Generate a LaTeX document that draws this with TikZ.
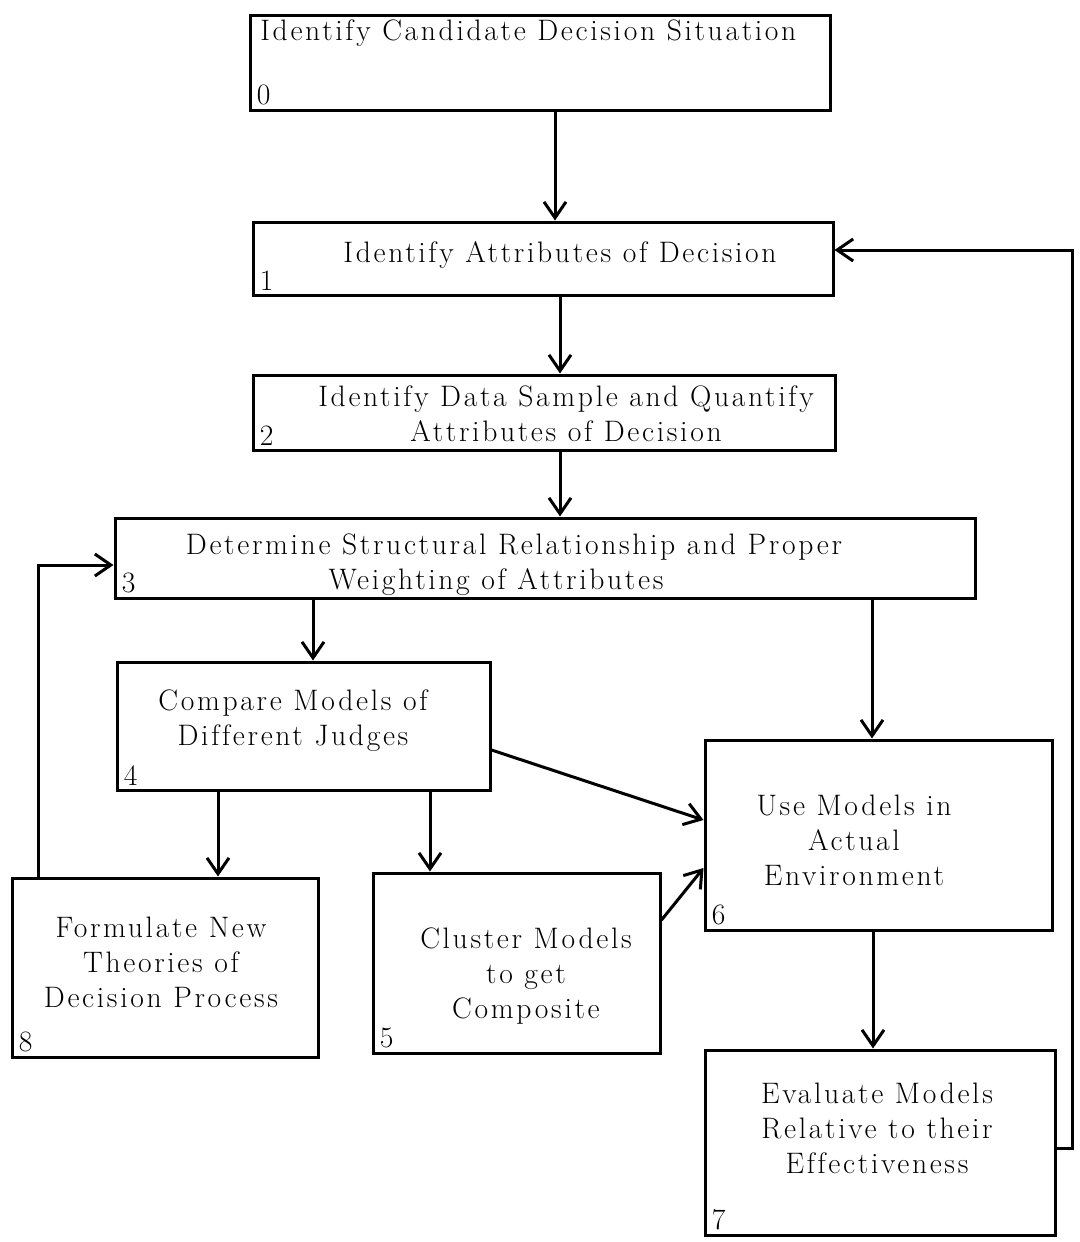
\documentclass[tikz,border=0pt]{standalone}
\usepackage{fontspec}
\setmainfont{Latin Modern Roman}[LetterSpace=9, Ligatures=CommonOff]
\usetikzlibrary{arrows.meta,fit}

\begin{document}
\begin{tikzpicture}[x=0.5pt,y=-0.5pt,
  every node/.style={font=\fontsize{14.8}{17.5}\selectfont},
  box/.style={draw, line width=1.5pt, inner sep=0pt, rectangle},
  txt/.style={align=center, inner sep=0pt},
  num/.style={anchor=south west, inner xsep=4pt, inner ysep=3pt},
  arr/.style={line width=1.5pt, -{Straight Barb[length=8pt,width=11pt,line width=1.5pt]}}]
\useasboundingbox[fill=white] (0,0) rectangle (1080,1242);

% process boxes
\node[box, fit={(250,15) (830,110)}]   (b0) {};
\node[box, fit={(253,222) (833,295)}]  (b1) {};
\node[box, fit={(253,375) (835,450)}]  (b2) {};
\node[box, fit={(115,518) (975,598)}]  (b3) {};
\node[box, fit={(117,662) (490,790)}]  (b4) {};
\node[box, fit={(373,873) (660,1053)}] (b5) {};
\node[box, fit={(705,740) (1052,930)}] (b6) {};
\node[box, fit={(705,1050) (1055,1235)}] (b7) {};
\node[box, fit={(12,878) (318,1057)}]  (b8) {};

% box texts
\node[txt, anchor=west] (t0) at (260,33) {Identify Candidate Decision Situation};
\node[txt] (t1) at (560,255) {Identify Attributes of Decision};
\node[txt] (t2) at (566,414) {Identify Data Sample and Quantify\\Attributes of Decision};
\node[txt] (t3) at (514,565) {Determine Structural Relationship and Proper\\Weighting of Attributes\hspace*{18pt}};
\node[txt] (t4) at (293,721) {Compare Models of\\Different Judges};
\node[txt] (t5) at (526,976) {Cluster Models\\to get\\Composite};
\node[txt] (t6) at (854,840) {Use Models in\\Actual\\Environment};
\node[txt] (t7) at (877,1128) {Evaluate Models\\Relative to their\\Effectiveness};
\node[txt] (t8) at (161,962) {Formulate New\\Theories of\\Decision Process};

% box numbers
\node[num] (n0) at (b0.south west) {0};
\node[num] (n1) at (b1.south west) {1};
\node[num] (n2) at (b2.south west) {2};
\node[num] (n3) at (b3.south west) {3};
\node[num] (n4) at (b4.south west) {4};
\node[num] (n5) at (b5.south west) {5};
\node[num] (n6) at (b6.south west) {6};
\node[num] (n7) at (b7.south west) {7};
\node[num] (n8) at (b8.south west) {8};

% connector guide points
\coordinate (x01) at (555,0);
\coordinate (x12) at (560,0);
\coordinate (x34) at (313,0);
\coordinate (x36) at (872,0);
\coordinate (x48) at (218,0);
\coordinate (x45) at (430,0);
\coordinate (x67) at (873,0);
\coordinate (x83) at (38,0);
\coordinate (r71) at (1072,250);

% vertical flow
\draw[arr] (b0.south -| x01) -- (b1.north -| x01);
\draw[arr] (b1.south -| x12) -- (b2.north -| x12);
\draw[arr] (b2.south -| x12) -- (b3.north -| x12);
\draw[arr] (b3.south -| x34) -- (b4.north -| x34);
\draw[arr] (b3.south -| x36) -- (b6.north -| x36);
\draw[arr] (b4.south -| x48) -- (b8.north -| x48);
\draw[arr] (b4.south -| x45) -- (b5.north -| x45);
\draw[arr] (b6.south -| x67) -- (b7.north -| x67);

% slanted links into box 6
\draw[arr] (b4.east |- 0,750) -- (b6.west |- 0,820);
\draw[arr] (b5.east |- 0,920) -- (b6.west |- 0,868);

% feedback loops
\draw[arr] (b7.east |- 0,1148) -| (r71) -- (b1.east |- r71);
\draw[arr] (b8.north -| x83) |- (b3.west |- 0,565);
\end{tikzpicture}
\end{document}
